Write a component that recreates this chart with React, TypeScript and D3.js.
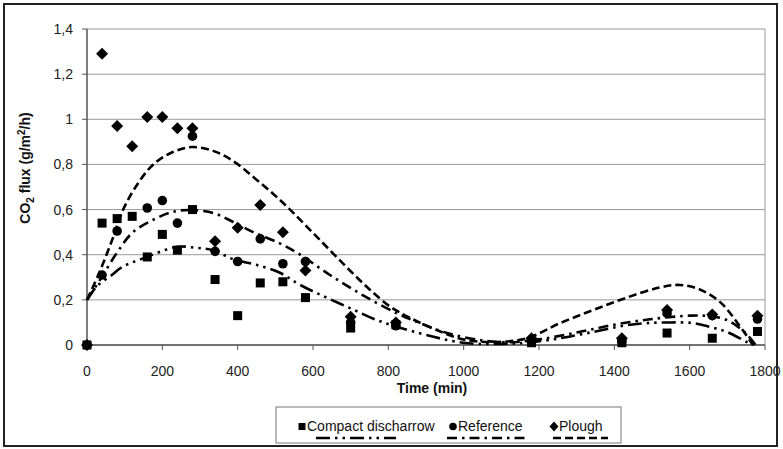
import React from "react";
import * as d3 from "d3";

// ---- data ----
const times = [0, 40, 80, 120, 160, 200, 240, 280, 340, 400, 460, 520, 580, 700, 820, 1180, 1420, 1540, 1660, 1780];
const compactValues: (number | null)[] = [0, 0.54, 0.56, 0.57, 0.39, 0.49, 0.42, 0.6, 0.29, 0.13, 0.275, 0.28, 0.21, 0.075, 0.09, 0.01, 0.01, 0.053, 0.03, 0.06];
const referenceValues: (number | null)[] = [0, 0.31, 0.505, null, 0.607, 0.64, 0.54, 0.925, 0.415, 0.37, 0.47, 0.36, 0.37, 0.1, 0.085, 0.02, 0.015, 0.14, 0.13, 0.115];
const ploughValues: (number | null)[] = [0, 1.29, 0.97, 0.88, 1.01, 1.01, 0.96, 0.96, 0.46, 0.52, 0.62, 0.5, 0.33, 0.125, 0.1, 0.03, 0.03, 0.155, 0.135, 0.13];

// trend curves
const ploughTrendX = [0, 35, 70, 96, 133, 176, 228, 278, 335, 388, 441, 494, 539, 592, 645, 698, 751, 805, 858, 929, 998, 1078, 1168, 1256, 1344, 1433, 1521, 1574, 1627, 1681, 1726, 1768];
const ploughTrendY = [0.2, 0.33, 0.48, 0.6, 0.71, 0.8, 0.855, 0.877, 0.86, 0.815, 0.745, 0.67, 0.6, 0.51, 0.42, 0.33, 0.245, 0.17, 0.12, 0.066, 0.025, 0.013, 0.03, 0.097, 0.155, 0.21, 0.255, 0.266, 0.246, 0.19, 0.1, 0];
const referenceTrendX = [0, 35, 80, 122, 176, 228, 273, 335, 388, 441, 512, 566, 645, 733, 823, 884, 956, 1050, 1120, 1200, 1300, 1400, 1500, 1600, 1650, 1700, 1750, 1775];
const referenceTrendY = [0.2, 0.29, 0.41, 0.5, 0.555, 0.59, 0.598, 0.585, 0.545, 0.5, 0.45, 0.4, 0.31, 0.22, 0.14, 0.097, 0.053, 0.02, 0.012, 0.025, 0.055, 0.09, 0.115, 0.13, 0.128, 0.11, 0.05, 0];
const compactTrendX = [0, 26, 66, 93, 159, 239, 292, 335, 388, 450, 512, 566, 632, 703, 770, 866, 998, 1100, 1168, 1256, 1344, 1433, 1486, 1548, 1609, 1654, 1699, 1752, 1770];
const compactTrendY = [0.2, 0.26, 0.31, 0.345, 0.39, 0.435, 0.43, 0.42, 0.38, 0.355, 0.32, 0.266, 0.213, 0.16, 0.11, 0.06, 0.01, 0.005, 0.01, 0.03, 0.058, 0.088, 0.097, 0.1, 0.097, 0.08, 0.058, 0.013, 0];

const xTicks = [0, 200, 400, 600, 800, 1000, 1200, 1400, 1600, 1800];
const yTicks = [0, 0.2, 0.4, 0.6, 0.8, 1, 1.2, 1.4];

const seriesNames = ["Compact discharrow", "Reference", "Plough"];

const W = 783;
const H = 449;
const FONT = "'Liberation Sans', Arial, sans-serif";

const locale = d3.formatLocale({ decimal: ",", thousands: ".", grouping: [3], currency: ["", ""] });
const fmtY = locale.format(".1~f");

const DASH_COMPACT = "14,5,2.5,5,2.5,5";
const DASH_REF = "10,5,2.5,5";
const DASH_PLOUGH = "8,4";

function Marker({ kind, cx, cy }: { kind: string; cx: number; cy: number }) {
  if (kind === "square") return <rect x={cx - 4.5} y={cy - 4.5} width={9} height={9} fill="#000" />;
  if (kind === "circle") return <circle cx={cx} cy={cy} r={4.8} fill="#000" />;
  return <path d={`M${cx},${cy - 6}L${cx + 6},${cy}L${cx},${cy + 6}L${cx - 6},${cy}Z`} fill="#000" />;
}

export default function App() {
  const x = d3.scaleLinear().domain([0, 1800]).range([87, 765]);
  const y = d3.scaleLinear().domain([0, 1.4]).range([345, 29]);

  const line = d3
    .line<[number, number]>()
    .x((d) => x(d[0]))
    .y((d) => y(d[1]))
    .curve(d3.curveCatmullRom.alpha(0.5));

  const zip = (a: number[], b: number[]) => a.map((v, i) => [v, b[i]] as [number, number]);

  const series = [
    { name: seriesNames[0], values: compactValues, kind: "square", dash: DASH_COMPACT, tx: compactTrendX, ty: compactTrendY },
    { name: seriesNames[1], values: referenceValues, kind: "circle", dash: DASH_REF, tx: referenceTrendX, ty: referenceTrendY },
    { name: seriesNames[2], values: ploughValues, kind: "diamond", dash: DASH_PLOUGH, tx: ploughTrendX, ty: ploughTrendY },
  ];

  const legendItems = [
    { kind: "square", mx: 302, tx: 307, lx0: 316, lx1: 396, dash: DASH_COMPACT, name: seriesNames[0] },
    { kind: "circle", mx: 453, tx: 458, lx0: 447, lx1: 528, dash: DASH_REF, name: seriesNames[1] },
    { kind: "diamond", mx: 554, tx: 559, lx0: 553, lx1: 608, dash: DASH_PLOUGH, name: seriesNames[2] },
  ];

  return (
    <svg width={W} height={H} style={{ position: "absolute", left: 0, top: 0, background: "#fff" }} fontFamily={FONT}>
      <rect x={0} y={0} width={W} height={H} fill="#fff" />
      {/* outer frame */}
      <rect x={4} y={4} width={773} height={442} fill="none" stroke="#222" strokeWidth={2} />

      {/* gridlines */}
      {yTicks.map((t) => (
        <line key={"g" + t} x1={87} x2={765} y1={y(t)} y2={y(t)} stroke="#999" strokeWidth={1} />
      ))}
      {/* plot area right border */}
      <line x1={765} x2={765} y1={y(1.4)} y2={y(0)} stroke="#999" strokeWidth={1} />

      {/* axes */}
      <line x1={87} x2={87} y1={y(1.4)} y2={y(0)} stroke="#555" strokeWidth={1.5} />
      <line x1={87} x2={765} y1={y(0)} y2={y(0)} stroke="#555" strokeWidth={1.5} />
      {yTicks.map((t) => (
        <g key={"yt" + t}>
          <line x1={82} x2={87} y1={y(t)} y2={y(t)} stroke="#555" />
          <text x={73} y={y(t)} dy="0.36em" textAnchor="end" fontSize={14} fill="#222">
            {fmtY(t)}
          </text>
        </g>
      ))}
      {xTicks.map((t) => (
        <g key={"xt" + t}>
          <line x1={x(t)} x2={x(t)} y1={345} y2={350} stroke="#555" />
          <text x={x(t)} y={376} textAnchor="middle" fontSize={14} fill="#222">
            {t}
          </text>
        </g>
      ))}

      {/* axis titles */}
      <text x={432} y={393} textAnchor="middle" fontSize={14} fontWeight="bold" fill="#111">
        Time (min)
      </text>
      <text transform="translate(30,168) rotate(-90)" textAnchor="middle" fontSize={14} fontWeight="bold" fill="#111">
        CO
        <tspan fontSize={10} dy={4}>2</tspan>
        <tspan dy={-4}> flux (g/m</tspan>
        <tspan fontSize={10} dy={-5}>2</tspan>
        <tspan dy={5}>/h)</tspan>
      </text>

      {/* trend curves */}
      {series.map((s) => (
        <path key={"c" + s.name} d={line(zip(s.tx, s.ty)) || ""} fill="none" stroke="#000" strokeWidth={2.6} strokeDasharray={s.dash} />
      ))}

      {/* markers */}
      {series.map((s) =>
        s.values.map((v, i) =>
          v == null ? null : <Marker key={s.name + i} kind={s.kind} cx={x(times[i])} cy={y(v)} />
        )
      )}

      {/* legend */}
      <rect x={276} y={407} width={345} height={36} fill="#fff" stroke="#777" strokeWidth={1} />
      {legendItems.map((l) => (
        <g key={"l" + l.name}>
          <line x1={l.lx0} x2={l.lx1} y1={438} y2={438} stroke="#000" strokeWidth={2.6} strokeDasharray={l.dash} />
          {l.kind === "square" ? (
            <rect x={l.mx - 3.5} y={423} width={7} height={7} fill="#000" />
          ) : l.kind === "circle" ? (
            <circle cx={l.mx} cy={426.5} r={3.8} fill="#000" />
          ) : (
            <path d={`M${l.mx},${421.5}L${l.mx + 4.5},${426.5}L${l.mx},${431.5}L${l.mx - 4.5},${426.5}Z`} fill="#000" />
          )}
          <text x={l.tx} y={431} fontSize={14} fill="#111">
            {l.name}
          </text>
        </g>
      ))}
    </svg>
  );
}
